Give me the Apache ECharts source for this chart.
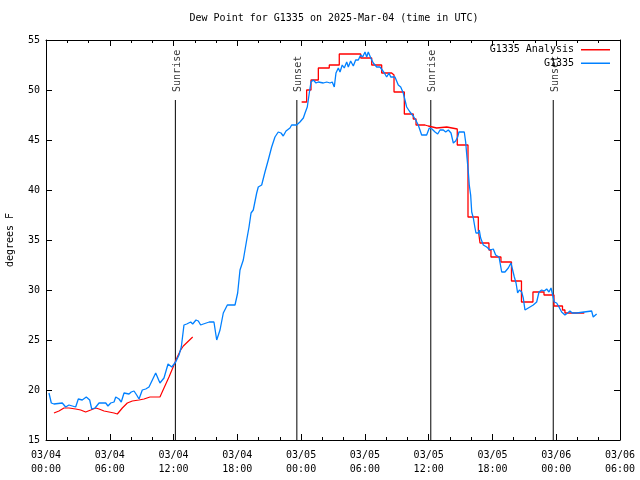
<!DOCTYPE html>
<html><head><meta charset="utf-8">
<script src="https://cdn.jsdelivr.net/npm/echarts@6/dist/echarts.min.js"></script>
<style>html,body{margin:0;padding:0;background:#fff}#c{width:640px;height:480px}</style>
</head><body><div id="c"></div>
<script>
// Hours since 2025-03-04 00:00 UTC
const titleText = 'Dew Point for G1335 on 2025-Mar-04 (time in UTC)';
const yName = 'degrees F';
const xTickDates = ['03/04','03/04','03/04','03/04','03/05','03/05','03/05','03/05','03/06','03/06'];
const xTickTimes = ['00:00','06:00','12:00','18:00','00:00','06:00','12:00','18:00','00:00','06:00'];

const blueT = [0.28,0.50,0.75,1.53,1.85,2.16,2.79,3.04,3.41,3.79,4.11,4.30,4.61,4.99,5.62,5.83,6.09,6.40,6.56,6.87,7.08,7.34,7.81,8.02,8.28,8.53,8.75,9.06,9.38,9.69,10.32,10.72,11.10,11.48,11.83,12.20,12.51,12.73,12.98,13.24,13.61,13.80,14.11,14.33,14.55,14.80,15.36,15.80,16.06,16.37,16.68,17.06,17.78,18.03,18.25,18.56,18.88,19.10,19.29,19.50,19.82,19.97,20.29,20.60,20.91,21.23,21.54,21.85,22.11,22.32,22.58,22.95,23.11,23.58,23.89,24.21,24.37,24.58,24.77,24.93,25.15,25.40,25.62,26.09,26.41,26.72,26.93,27.12,27.28,27.50,27.66,27.87,28.06,28.29,28.44,28.66,28.91,29.13,29.38,29.60,29.79,30.01,30.17,30.32,30.55,30.79,31.11,31.42,31.58,31.83,32.05,32.27,32.43,32.58,32.83,33.14,33.37,33.61,33.77,33.93,34.24,34.55,34.78,35.02,35.34,35.81,36.06,36.31,36.60,36.85,37.07,37.38,37.60,37.85,38.10,38.32,38.54,38.73,38.85,39.35,39.48,39.61,39.73,39.82,39.95,40.05,40.20,40.36,40.45,40.67,40.76,40.89,41.14,41.46,41.77,42.08,42.30,42.62,42.87,43.18,43.49,43.74,43.87,44.06,44.22,44.37,44.53,44.75,44.90,45.06,45.22,45.53,45.84,46.16,46.38,46.63,46.88,47.10,47.32,47.51,47.69,47.82,48.04,48.26,48.51,48.82,49.08,49.29,49.51,49.92,50.08,51.33,51.48,51.80];
const blueV = [19.7,18.7,18.6,18.7,18.3,18.5,18.3,19.1,19.0,19.3,19.0,18.1,18.2,18.7,18.7,18.4,18.7,18.8,19.3,19.1,18.8,19.7,19.6,19.8,19.9,19.5,19.1,20.0,20.1,20.3,21.7,20.7,21.2,22.6,22.3,22.8,23.5,24.3,26.5,26.6,26.8,26.6,27.0,26.9,26.5,26.6,26.8,26.8,25.0,26.0,27.7,28.5,28.5,29.7,32.0,33.0,35.0,36.3,37.7,38.0,39.7,40.3,40.5,41.8,43.0,44.3,45.3,45.8,45.7,45.4,45.9,46.2,46.5,46.5,46.8,47.2,47.7,48.3,49.7,50.8,51.0,50.7,50.8,50.7,50.8,50.7,50.8,50.3,51.7,52.2,51.8,52.5,52.2,52.8,52.3,52.9,52.4,53.0,53.0,53.5,53.3,53.8,53.3,53.8,53.2,52.7,52.3,52.3,52.2,51.7,51.3,51.7,51.3,51.5,51.3,50.5,50.3,49.7,49.0,48.3,47.8,47.4,47.0,46.5,45.5,45.5,46.2,46.1,45.8,45.6,46.0,46.0,45.8,46.0,45.7,44.7,44.9,45.3,45.8,45.8,44.8,43.2,41.8,40.5,39.5,37.8,37.2,36.2,35.7,35.7,36.0,35.2,34.5,34.3,34.0,34.1,33.5,33.3,31.8,31.8,32.2,32.7,32.8,31.3,30.7,29.7,30.0,29.8,29.2,28.0,28.2,28.3,28.5,28.8,29.8,30.0,29.9,30.1,29.8,30.2,30.1,28.8,28.7,28.3,27.8,27.5,27.7,27.9,27.7,27.7,27.9,27.9,27.3,27.6];

// Analysis, first (smooth) part
const redAT = [0.75,1.22,1.69,2.16,2.79,3.26,3.73,4.21,4.68,4.99,5.46,5.93,6.40,6.71,7.18,7.65,8.12,8.75,9.22,9.78,10.32,10.72,11.10,11.57,12.04,12.35,12.67,12.92,13.80];
const redAV = [17.7,17.9,18.2,18.2,18.1,18.0,17.8,18.0,18.2,18.1,17.9,17.8,17.7,17.6,18.2,18.7,18.9,19.0,19.1,19.3,19.3,19.3,20.2,21.3,22.5,23.3,24.0,24.4,25.3];
// Analysis, second (stepped) part
const redBT = [24.05,24.52,24.93,25.62,26.65,27.59,29.61,30.64,31.58,32.52,32.74,33.71,34.55,34.81,35.65,35.96,36.75,37.70,38.69,39.70,40.67,40.83,41.67,41.86,42.80,43.79,44.73,45.81,46.85,47.79,48.59,48.82,50.64];
const redBV = [48.8,50.0,51.0,52.2,52.5,53.6,53.2,52.5,51.7,51.5,49.8,47.6,47.1,46.5,46.4,46.2,46.3,46.1,44.5,37.3,36.0,34.7,34.0,33.3,32.8,30.9,28.8,29.8,29.5,28.4,28.0,27.7,27.7];

const eventT = [12.17, 23.6, 36.2, 47.72];
const eventNames = ['Sunrise', 'Sunset', 'Sunrise', 'Sunset'];
const eventTop = 49;

const zip = (a, b) => a.map((t, i) => [t, b[i]]);
const FONT = 'DejaVu Sans Mono';
const txt = {fontFamily: FONT, fontSize: 10, color: '#000'};

const eventSeries = [];
eventT.forEach((t, i) => {
  eventSeries.push({
    type: 'line', data: [[t, 15], [t, eventTop]], symbol: 'none', silent: true,
    lineStyle: {color: '#000', width: 1}, z: 1
  });
  eventSeries.push({
    type: 'scatter', data: [[t, eventTop]], symbolSize: 0.1, silent: true,
    itemStyle: {color: 'transparent'},
    label: {show: true, formatter: eventNames[i], position: [2, -8], rotate: 90,
      align: 'left', verticalAlign: 'middle', ...txt}
  });
});

const axisCommon = {
  type: 'value', min: 0, max: 54, interval: 6,
  axisLine: {show: true, onZero: false, lineStyle: {color: '#000', width: 1}},
  axisTick: {show: true, inside: true, length: 6, lineStyle: {color: '#000'}},
  minorTick: {show: true, splitNumber: 3, length: 3, lineStyle: {color: '#000'}},
  splitLine: {show: false}
};
const yCommon = {
  type: 'value', min: 15, max: 55, interval: 5,
  axisLine: {show: true, onZero: false, lineStyle: {color: '#000', width: 1}},
  axisTick: {show: true, inside: true, length: 6, lineStyle: {color: '#000'}},
  splitLine: {show: false}
};

const chart = echarts.init(document.getElementById('c'), null, {renderer: 'canvas'});
chart.setOption({
  animation: false,
  backgroundColor: '#fff',
  title: {text: titleText, left: 329, top: 8, textAlign: 'center',
    textStyle: {fontFamily: FONT, fontSize: 10, fontWeight: 'normal', color: '#000'}},
  grid: {left: 46, right: 20, top: 40, bottom: 40, containLabel: false, outerBoundsMode: 'none'},
  legend: {
    data: [{name: 'G1335 Analysis', icon: 'rect'}, {name: 'G1335', icon: 'rect'}],
    orient: 'vertical', right: 30, top: 43, padding: 0,
    align: 'right', itemWidth: 29, itemHeight: 1.5, itemGap: 0,
    textStyle: {...txt, lineHeight: 13.5, padding: [0, 2, 0, 0]}},
  xAxis: [
    {...axisCommon, position: 'bottom',
      axisLabel: {show: true, margin: 8, lineHeight: 14, ...txt,
        formatter: (v) => { const i = Math.round(v / 6); return xTickDates[i] + '\n' + xTickTimes[i]; }}},
    {...axisCommon, position: 'top', axisLabel: {show: false}}
  ],
  yAxis: [
    {...yCommon, position: 'left', name: yName, nameLocation: 'middle', nameGap: 31, nameRotate: 90,
      nameTextStyle: txt, axisLabel: {show: true, margin: 6, ...txt}},
    {...yCommon, position: 'right', axisLabel: {show: false}}
  ],
  series: [
    ...eventSeries,
    {name: 'G1335 Analysis', type: 'line', data: zip(redAT, redAV), symbol: 'none',
      lineStyle: {color: '#ff0000', width: 1.2}, itemStyle: {color: '#ff0000'}, z: 3},
    {name: 'G1335 Analysis', type: 'line', step: 'end', data: zip(redBT, redBV), symbol: 'none',
      lineStyle: {color: '#ff0000', width: 1.3}, itemStyle: {color: '#ff0000'}, z: 3},
    {name: 'G1335', type: 'line', data: zip(blueT, blueV), symbol: 'none',
      lineStyle: {color: '#0080ff', width: 1.3}, itemStyle: {color: '#0080ff'}, z: 4}
  ]
});
</script></body></html>
